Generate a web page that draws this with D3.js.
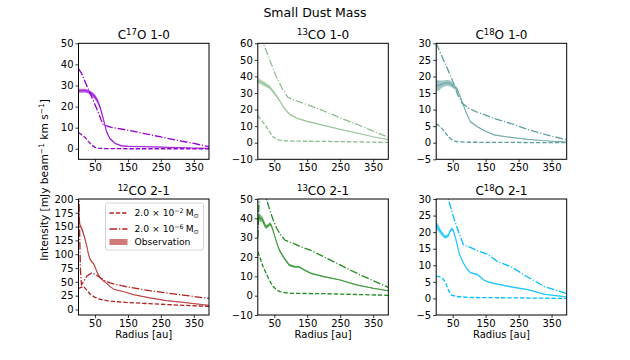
<!DOCTYPE html>
<html>
<head>
<meta charset="utf-8">
<script src="https://cdn.jsdelivr.net/npm/d3@7"></script>
<style>
body { margin: 0; background: #fff; }
text { font-family: "DejaVu Sans", sans-serif; fill: #000; }
</style>
</head>
<body>
<svg id="fig" width="630" height="360"></svg>
<script>
// radial profiles: [radius au, intensity] / obs: [radius, low, high]
var radiusTicks = [50, 150, 250, 350];

var c17o10Obs = [[0,26.5,28.3],[10,26.6,28.4],[20,26.7,28.5],[30,26.2,28],[40,25,27.2],[50,23.4,25.8],[58,21.5,23.8],[65,19,21],[75,13.6,15.2],[85,7.5,8.8],[95,4.4,5.4],[111,2.2,2.8],[131,1.1,1.7],[150,0.9,1.4],[200,0.8,1.2],[250,0.6,0.9],[300,0.4,0.7],[350,0.2,0.5],[396,0.1,0.3]];
var c17o10Large = [[0,7.6],[5,7.2],[10,6.6],[20,5.4],[30,3.5],[40,1.8],[50,0.7],[60,0.3],[80,0.1],[150,0],[396,0]];
var c17o10Small = [[0,38],[10,35.5],[20,31.8],[30,28.2],[40,24.6],[50,21],[60,17.2],[68,14],[75,11.5],[85,10.8],[100,10.1],[150,8.8],[200,7.2],[250,5.6],[300,4],[350,2.5],[396,1]];

var co13_10Obs = [[0,36,39],[10,35,38],[20,34,37],[30,33,35.5],[35,32.5,35],[40,31.5,33.5],[50,29,31],[60,26.5,28],[70,23.5,24.8],[80,20.5,21.5],[90,18,19],[100,16.3,17.2],[120,14.3,15],[150,12.5,13.2],[200,10.2,10.8],[250,7.8,8.3],[300,5.6,6.1],[350,3.4,3.8],[396,1.7,2.1]];
var co13_10Large = [[0,16.3],[10,14],[26,9.7],[36,6.5],[46,3.6],[56,2.3],[66,1.6],[86,1.1],[106,1],[200,0.8],[300,0.5],[396,0.2]];
var co13_10Small = [[0,72],[10,65],[19,59],[36,50],[56,40],[76,32],[91,27.4],[110,25.8],[126,24.7],[150,23],[206,18.7],[250,15],[306,10.7],[350,7],[396,3.4]];

var c18o10Obs = [[0,15.4,18.9],[10,16,18.8],[22,16.9,18.8],[35,17.2,19],[43,17,18.8],[53,16.3,17.7],[63,15.8,16.8],[73,13.5,14.2],[84,10.6,11.2],[94,8.2,8.7],[104,6.1,6.5],[125,4.6,5],[150,3.3,3.6],[176,2.2,2.5],[227,1.5,1.7],[278,0.9,1.1],[330,0.5,0.7],[396,0.1,0.3]];
var c18o10Large = [[0,5.8],[10,5],[22,3.8],[32,2.4],[43,1.3],[53,0.6],[63,0.3],[100,0.15],[200,0.1],[396,0]];
var c18o10Small = [[0,30],[22,25],[40,21],[53,17.9],[65,14.5],[79,11.9],[99,10.4],[125,9.2],[150,8.3],[176,7.3],[227,5.8],[278,4],[330,2.5],[396,0.9]];

var co12_21Obs = [[0,190,200],[2,165,172],[4,150,156],[8,146,152],[12,140,146],[16,132,138],[20,124,130],[25,112,118],[30,98,103],[35,89,93],[40,85,88],[45,82,85],[50,76,79],[55,68,71],[60,62,64],[65,57,59],[75,51,53],[85,47,48.5],[95,41,42.5],[106,36.5,37.5],[120,34,35],[136,32,33],[166,26.5,27.5],[216,20.5,21.5],[267,15.5,16.5],[317,12.5,13.5],[396,7,8]];
var co12_21Large = [[0,38],[8,40],[15,42],[25,35],[35,28],[50,22],[65,18.5],[90,15.5],[116,14],[150,12.5],[216,10.5],[267,9],[317,7.5],[396,5.5]];
var co12_21Small = [[0,260],[3,150],[6,70],[9,45],[15,50],[25,60],[40,66],[50,64],[65,58],[80,52],[96,48],[130,43],[166,39],[216,34],[267,30],[317,26],[396,20]];

var co13_21Obs = [[0,34,40],[3,39,43],[7,38,42],[11,38.5,41.5],[15,37.5,40.5],[20,35.5,38.5],[25,34.5,36.5],[30,35,37],[37,36.2,38],[42,35,37],[47,32.5,34],[55,28,29.5],[65,23,24.5],[80,18.8,20],[95,15.3,16.5],[110,14.5,15.5],[125,14.4,15.4],[140,13,13.8],[160,11.3,12],[200,9.5,10.2],[250,7.8,8.4],[300,5.3,5.8],[350,3.6,4.1],[396,2.3,2.8]];
var co13_21Large = [[0,22.8],[8,19],[16,15],[24,12],[32,9],[40,6.5],[47,4.7],[57,3],[67,2.1],[85,1.5],[108,1.2],[210,1],[300,0.6],[396,0.2]];
var co13_21Small = [[0,30],[3,45],[6,56],[12,62],[20,56],[26,50],[37,44],[47,39],[57,35],[67,32],[82,28.8],[108,27],[130,25.3],[159,23.6],[210,19.3],[260,15],[311,10.7],[360,7],[396,4.3]];

var c18o21Obs = [[0,21,23.5],[8,20,22],[16,19,20.5],[27,17.9,19],[37,18.5,19.5],[42,19.8,20.8],[47,20.5,21.5],[52,20,21],[58,18,19],[63,16,17],[68,13.7,14.5],[75,12,12.6],[83,10.3,10.9],[93,8.7,9.2],[104,7.5,8],[115,7.3,7.7],[124,7,7.5],[135,6.2,6.6],[145,5.3,5.7],[160,4.7,5.1],[176,4.3,4.7],[227,3.3,3.7],[250,2.9,3.3],[279,2.5,2.8],[330,1.1,1.4],[396,0.3,0.6]];
var c18o21Large = [[0,6.7],[11,6.5],[20,6],[27,5],[32,3.8],[37,2.5],[42,1.6],[47,1],[60,0.6],[73,0.5],[100,0.3],[200,0.2],[300,0.1],[396,0]];
var c18o21Small = [[0,44],[20,36],[37,30],[52,24.6],[68,20.1],[83,16.1],[104,15.4],[124,14.4],[155,13.4],[186,11.1],[227,9.6],[268,7],[300,5.2],[330,3.5],[396,1.5]];

var lineTitles = [["C","17","O 1-0"],["","13","CO 1-0"],["C","18","O 1-0"],["","12","CO 2-1"],["","13","CO 2-1"],["C","18","O 2-1"]];
var yDomains = [[-5,50],[-10,60],[-5,30],[-10,200],[-10,50],[-5,30]];
var yTickSets = [[0,10,20,30,40,50],[-10,0,10,20,30,40,50,60],[-5,0,5,10,15,20,25,30],[0,25,50,75,100,125,150,175,200],[-10,0,10,20,30,40,50],[-5,0,5,10,15,20,25,30]];
var legendLabels = [["2.0 \u00d7 10","\u22122"],["2.0 \u00d7 10","\u22126"],["Observation"]];

var panels = [
  {obs: c17o10Obs, large: c17o10Large, small: c17o10Small, color: "#9400d3"},
  {obs: co13_10Obs, large: co13_10Large, small: co13_10Small, color: "#8fbc8f"},
  {obs: c18o10Obs, large: c18o10Large, small: c18o10Small, color: "#5f9ea0"},
  {obs: co12_21Obs, large: co12_21Large, small: co12_21Small, color: "#b22222"},
  {obs: co13_21Obs, large: co13_21Large, small: co13_21Small, color: "#228b22"},
  {obs: c18o21Obs, large: c18o21Large, small: c18o21Small, color: "#00bfff"}
];

var svg = d3.select("#fig");
var lefts = [78.5, 257.8, 436.2], tops = [43.3, 199];
var pw = 130.5, ph = 116;
var dashStyle = "4.4,1.9", dashDotStyle = "7.7,1.9,1.2,1.9";

svg.append("text").attr("x", 315).attr("y", 17).attr("text-anchor", "middle")
  .style("font-size", "12.5px").text("Small Dust Mass");

panels.forEach(function(p, i) {
  var col = i % 3, row = Math.floor(i / 3);
  var g = svg.append("g").attr("transform", "translate(" + lefts[col] + "," + tops[row] + ")");
  var x = d3.scaleLinear().domain([0, 396]).range([0, pw]);
  var y = d3.scaleLinear().domain(yDomains[i]).range([ph, 0]);

  g.append("clipPath").attr("id", "clip" + i)
    .append("rect").attr("width", pw).attr("height", ph);
  var plot = g.append("g").attr("clip-path", "url(#clip" + i + ")");

  var band = d3.area().x(function(d) { return x(d[0]); })
    .y0(function(d) { return y(d[1]); }).y1(function(d) { return y(d[2]); });
  var mid = d3.line().x(function(d) { return x(d[0]); })
    .y(function(d) { return y((d[1] + d[2]) / 2); });
  var line = d3.line().x(function(d) { return x(d[0]); }).y(function(d) { return y(d[1]); });

  plot.append("path").datum(p.obs).attr("d", band)
    .attr("fill", p.color).attr("fill-opacity", 0.6).attr("stroke", "none");
  plot.append("path").datum(p.obs).attr("d", mid)
    .attr("fill", "none").attr("stroke", p.color).attr("stroke-opacity", 0.7).attr("stroke-width", 1.2);
  plot.append("path").datum(p.large).attr("d", line)
    .attr("fill", "none").attr("stroke", p.color).attr("stroke-width", 1.3).attr("stroke-dasharray", dashStyle);
  plot.append("path").datum(p.small).attr("d", line)
    .attr("fill", "none").attr("stroke", p.color).attr("stroke-width", 1.3).attr("stroke-dasharray", dashDotStyle);

  var xa = g.append("g").attr("transform", "translate(0," + ph + ")")
    .call(d3.axisBottom(x).tickValues(radiusTicks).tickSize(3).tickPadding(2));
  var ya = g.append("g")
    .call(d3.axisLeft(y).tickValues(yTickSets[i]).tickSize(3).tickPadding(2));
  [xa, ya].forEach(function(a) {
    a.select(".domain").remove();
    a.selectAll("line").attr("stroke", "#000").attr("stroke-width", 0.8);
    a.selectAll("text").style("font-size", "10px").style("font-family", "DejaVu Sans");
  });

  g.append("rect").attr("width", pw).attr("height", ph)
    .attr("fill", "none").attr("stroke", "#000").attr("stroke-width", 1);

  var t = g.append("text").attr("x", pw / 2).attr("y", -4).attr("text-anchor", "middle")
    .style("font-size", "12px");
  t.append("tspan").text(lineTitles[i][0]);
  t.append("tspan").attr("dy", -4.5).style("font-size", "8.5px").text(lineTitles[i][1]);
  t.append("tspan").attr("dy", 4.5).text(lineTitles[i][2]);

  if (row === 1) {
    g.append("text").attr("x", pw / 2).attr("y", ph + 23).attr("text-anchor", "middle")
      .style("font-size", "10px").text("Radius [au]");
  }

  if (i === 3) {
    var lg = g.append("g").attr("transform", "translate(27,4)");
    lg.append("rect").attr("width", 98).attr("height", 47).attr("rx", 2)
      .attr("fill", "#fff").attr("fill-opacity", 0.8).attr("stroke", "#ccc").attr("stroke-width", 0.8);
    var rowsY = [10, 26, 39];
    lg.append("line").attr("x1", 4).attr("x2", 22).attr("y1", rowsY[0]).attr("y2", rowsY[0])
      .attr("stroke", p.color).attr("stroke-width", 1.3).attr("stroke-dasharray", dashStyle);
    lg.append("line").attr("x1", 4).attr("x2", 22).attr("y1", rowsY[1]).attr("y2", rowsY[1])
      .attr("stroke", p.color).attr("stroke-width", 1.3).attr("stroke-dasharray", dashDotStyle);
    lg.append("rect").attr("x", 4).attr("y", rowsY[2] - 3).attr("width", 18).attr("height", 6)
      .attr("fill", p.color).attr("fill-opacity", 0.6);
    legendLabels.forEach(function(l, k) {
      var tx = lg.append("text").attr("x", 29).attr("y", rowsY[k] + 3.3).style("font-size", "9.2px");
      tx.append("tspan").text(l[0]);
      if (l.length > 1) {
        tx.append("tspan").attr("dy", -3.5).style("font-size", "6.3px").text(l[1]);
        tx.append("tspan").attr("dy", 3.5).attr("dx", 2).text("M");
        tx.append("tspan").attr("dy", 1.5).style("font-size", "6.3px").text("\u2299");
      }
    });
  }
});

var yl = svg.append("text").attr("transform", "translate(48,180) rotate(-90)")
  .attr("text-anchor", "middle").style("font-size", "10.6px");
yl.append("tspan").text("Intensity [mJy beam");
yl.append("tspan").attr("dy", -4).style("font-size", "7.5px").text("\u22121");
yl.append("tspan").attr("dy", 4).text(" km s");
yl.append("tspan").attr("dy", -4).style("font-size", "7.5px").text("\u22121");
yl.append("tspan").attr("dy", 4).text("]");
</script>
</body>
</html>
